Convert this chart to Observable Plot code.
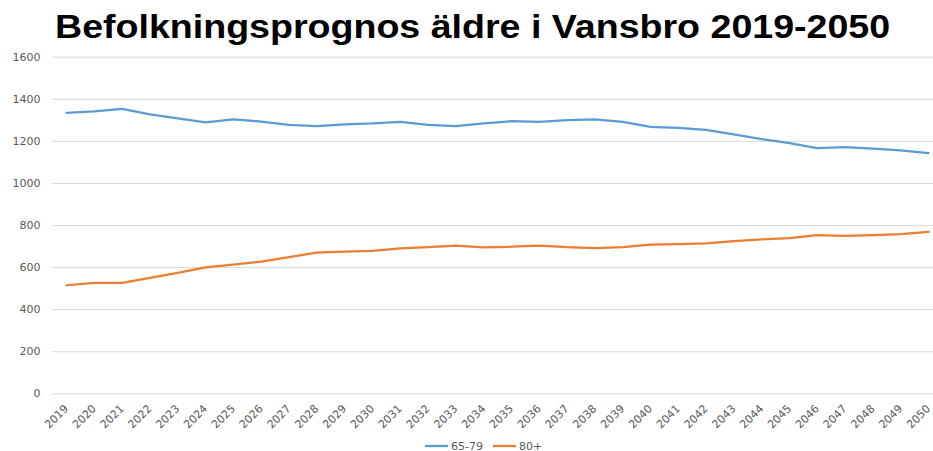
<!DOCTYPE html>
<html>
<head>
<meta charset="utf-8">
<script src="https://cdn.jsdelivr.net/npm/d3@7"></script>
<script src="https://cdn.jsdelivr.net/npm/@observablehq/plot@0.6"></script>
<style>
  html, body { margin: 0; padding: 0; background: #fff; }
  #wrap { position: relative; width: 933px; height: 451px; overflow: hidden; }
  #title { position: absolute; left: 55px; top: 9px; font: bold 34px "Liberation Sans", Arial, sans-serif; color: #000; white-space: nowrap; line-height: 1; transform-origin: 0 0; transform: scaleX(1.105); }
  #chart { position: absolute; left: 0; top: 46px; }
  #legend { position: absolute; left: 0; top: 438px; width: 933px; font: 11px "DejaVu Sans", sans-serif; color: #595959; }
  .item { position: absolute; top: 0; display: flex; align-items: center; height: 16px; }
  .item svg { margin-right: 3px; }
</style>
</head>
<body>
<div id="wrap">
  <div id="title">Befolkningsprognos äldre i Vansbro 2019-2050</div>
  <div id="chart"></div>
  <div id="legend"></div>
</div>
<script>
const years = [2019,2020,2021,2022,2023,2024,2025,2026,2027,2028,2029,2030,2031,2032,2033,2034,2035,2036,2037,2038,2039,2040,2041,2042,2043,2044,2045,2046,2047,2048,2049,2050];
const series = ["65-79", "80+"];
const colors = ["#5B9BD5", "#ED7D31"];
const values6579 = [1335,1342,1354,1328,1309,1290,1305,1294,1278,1272,1281,1285,1293,1278,1272,1285,1296,1293,1301,1304,1293,1269,1264,1255,1233,1211,1192,1168,1172,1165,1157,1144];
const values80 = [516,527,527,551,575,601,614,628,650,671,676,679,691,697,704,696,699,704,697,693,697,709,712,715,726,734,740,754,751,754,759,770];
const yTicks = [0,200,400,600,800,1000,1200,1400,1600];

const rows = [];
years.forEach((yr, i) => {
  rows.push({year: String(yr), series: series[0], value: values6579[i]});
  rows.push({year: String(yr), series: series[1], value: values80[i]});
});

const chart = Plot.plot({
  width: 933,
  height: 384,
  marginLeft: 52,
  marginRight: 0,
  marginTop: 10.7,
  marginBottom: 36.7,
  style: { fontFamily: "'DejaVu Sans', sans-serif", fontSize: "11px", color: "#595959", background: "#fff" },
  x: { type: "point", domain: years.map(String), range: [66, 928], padding: 0, round: false, label: null },
  y: { domain: [0, 1600], label: null },
  color: { domain: series, range: colors },
  marks: [
    Plot.ruleY(yTicks, { stroke: "#d9d9d9", strokeWidth: 1 }),
    Plot.axisY({ ticks: yTicks, tickSize: 0, tickPadding: 12, tickFormat: d => String(d), fill: "#595959" }),
    Plot.axisX({ tickRotate: -45, tickSize: 0, tickPadding: 13, fill: "#595959" }),
    Plot.line(rows, { x: "year", y: "value", stroke: "series", strokeWidth: 2.25, strokeLinejoin: "round", strokeLinecap: "round" })
  ]
});
document.getElementById("chart").appendChild(chart);

// legend with line swatches
const legend = document.getElementById("legend");
const positions = [425, 493];
series.forEach((s, i) => {
  const div = document.createElement("div");
  div.className = "item";
  div.style.left = positions[i] + "px";
  div.innerHTML = `<svg width="23" height="16"><line x1="0" x2="23" y1="8" y2="8" stroke="${colors[i]}" stroke-width="2.25"/></svg><span>${s}</span>`;
  legend.appendChild(div);
});
</script>
</body>
</html>
